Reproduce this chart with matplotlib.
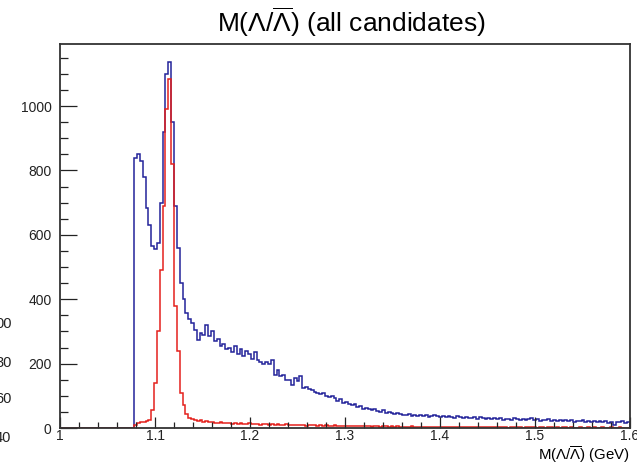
import numpy as np
import matplotlib
matplotlib.use("Agg")
import matplotlib.pyplot as plt

plt.rcParams["font.family"] = ["Liberation Sans", "DejaVu Sans"]
plt.rcParams["mathtext.fontset"] = "custom"
plt.rcParams["mathtext.rm"] = "Liberation Sans"
plt.rcParams["mathtext.it"] = "Liberation Sans"
plt.rcParams["mathtext.bf"] = "Liberation Sans"

# histogram binning: 200 bins from 1.0 to 1.6 GeV
x_min, x_max, n_bins = 1.0, 1.6, 200

# all candidates (blue)
blue_counts = [0] * 26 + [
    838, 852, 830, 780, 683, 630, 565, 555, 575, 700,
    920, 1100, 1137, 950, 690, 560,
    450, 400, 357, 340, 325, 305, 273,
    295, 290, 320, 285, 300, 270, 275, 255, 260, 245, 250, 235,
    255, 230, 245, 225, 240, 230, 215, 235, 210, 205,
    200, 205, 200, 210, 165, 180, 160, 165, 150, 150,
    135, 155, 145, 160, 125, 128, 120, 118, 112, 110,
    105, 108, 100, 97, 100, 92, 85, 90, 78, 82,
    75, 70, 74, 65, 68, 60, 63, 58, 56, 60,
    52, 50, 55, 48, 50, 46, 44, 48, 42, 40,
    40, 43, 38, 41, 37, 40, 36, 39, 35, 38,
    41, 36, 34, 37, 33, 38, 35, 32, 36, 33,
    31, 35, 32, 30, 34, 29, 33, 30, 28, 32,
    29, 31, 27, 30, 26, 29, 28, 25, 30, 27,
    26, 29, 24, 27, 32, 25, 27, 23, 26, 24,
    27, 22, 25, 23, 26, 21, 24, 22, 25, 20,
    23, 21, 24, 19, 22, 20, 23, 18, 21, 19,
    22, 17, 20, 10, 19, 18, 21, 17, 19,
]

# selected candidates (red)
red_counts = [0] * 26 + [
    8, 14, 18, 20, 22, 26, 55, 140, 300, 490,
    690, 990, 1085, 820, 380, 240, 110, 70,
    45, 32, 28, 25, 22, 24, 20, 21, 18, 19, 17, 16, 18, 15, 14, 16, 13,
    14, 12, 15, 13, 12, 14, 11, 13, 12, 10,
    12, 11, 10, 12, 9, 11, 10, 9, 11, 8,
    10, 9, 8, 10, 9, 7, 9, 8, 8, 7,
    9, 7, 8, 6, 7, 8, 6, 7, 6, 7,
    6, 5, 7, 6, 5, 6, 5, 6, 4, 5,
    6, 4, 5, 5, 4, 5, 4, 5, 3, 4,
    4, 3, 5, 4, 3, 4, 3, 4, 2, 3,
    4, 3, 2, 3, 4, 2, 3, 3, 2, 3,
    2, 3, 4, 2, 3, 2, 3, 2, 2, 3,
    2, 3, 2, 2, 3, 2, 1, 2, 3, 2,
    2, 1, 2, 3, 2, 2, 1, 2, 2, 1,
    2, 2, 1, 2, 1, 2, 2, 1, 2, 1,
    1, 2, 1, 1, 2, 1, 2, 1, 1, 2,
    1, 1, 2, 1, 1, 2, 1, 1, 1,
]

edges = np.linspace(x_min, x_max, n_bins + 1)

fig = plt.figure(figsize=(6.37, 4.65), dpi=100)
ax = fig.add_axes([60 / 637, 1 - 428 / 465, 570 / 637, 384 / 465])

ax.stairs(blue_counts, edges, color="#23239a", linewidth=1.1)
ax.stairs(red_counts, edges, color="#e4201c", linewidth=1.1)

ax.set_xlim(x_min, x_max)
ax.set_ylim(0, 1193)

ax.set_xticks(np.arange(1.0, 1.61, 0.1))
ax.set_xticklabels(["1", "1.1", "1.2", "1.3", "1.4", "1.5", "1.6"])
ax.set_xticks(np.arange(1.0, 1.601, 0.02), minor=True)
ax.set_yticks(np.arange(0, 1001, 200))
ax.set_yticks(np.arange(0, 1191, 50), minor=True)

ax.tick_params(axis="both", which="both", direction="in", colors="#222222",
               labelsize=10, top=False, right=False)
ax.tick_params(axis="x", which="major", length=8, width=0.9, pad=0.5)
ax.tick_params(axis="x", which="minor", length=4, width=0.9)
ax.tick_params(axis="y", which="major", length=12, width=0.9, pad=6)
ax.tick_params(axis="y", which="minor", length=6, width=0.9)

for s in ax.spines.values():
    s.set_color("#333333")
    s.set_linewidth(1.3)

fig.text(351 / 637, 1 - 22 / 465, r"M($\Lambda$/$\overline{\Lambda}$) (all candidates)",
         ha="center", va="center", fontsize=19)
fig.text(630 / 637, 0.5 / 465, r"M($\Lambda$/$\overline{\Lambda}$) (GeV)",
         ha="right", va="bottom", fontsize=10.8)

# clipped labels from the neighbouring pad on the left edge
for lab, yp in [("00", 324), ("30", 363), ("60", 399), ("40", 438)]:
    fig.text(-5 / 637, 1 - yp / 465, lab, ha="left", va="center",
             fontsize=10.5, color="#222222")

fig.savefig("out.png", dpi=100, facecolor="white")
